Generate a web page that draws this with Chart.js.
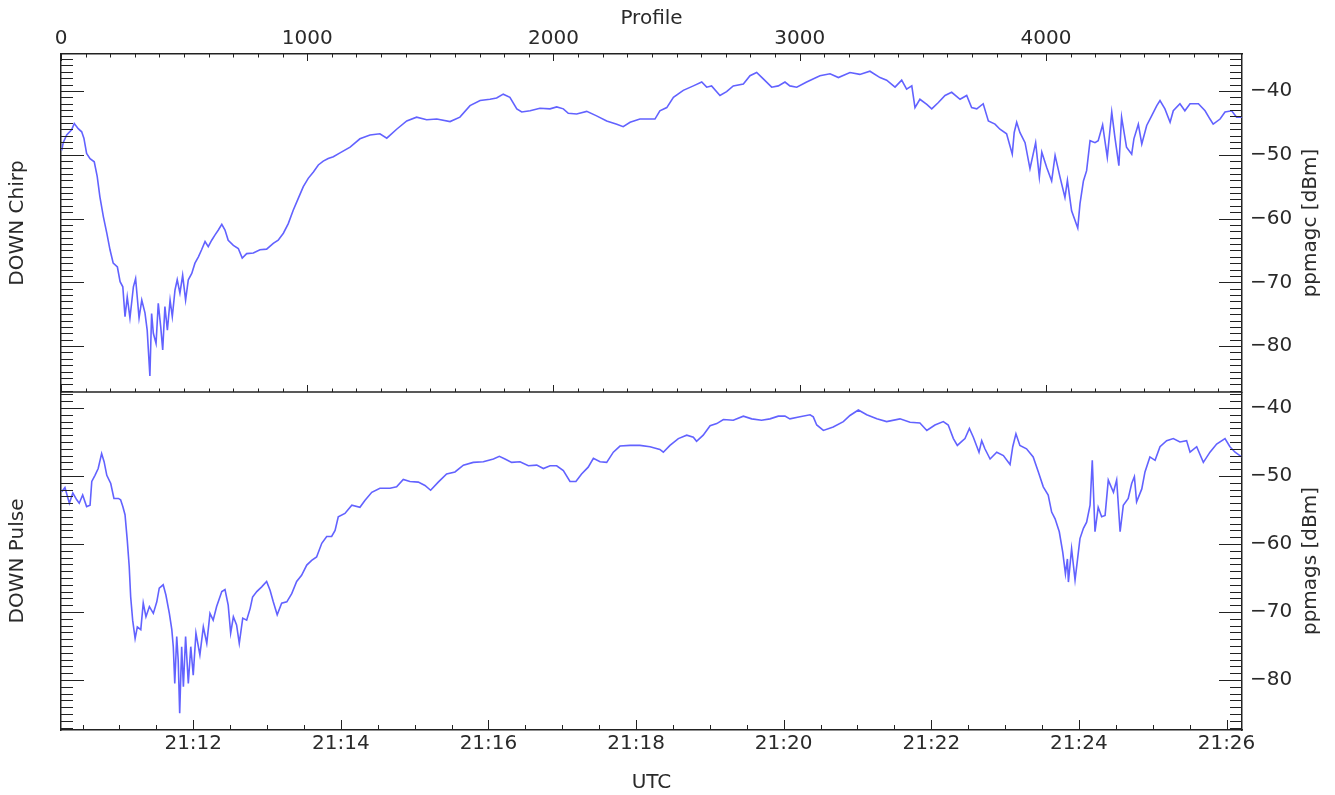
<!DOCTYPE html>
<html><head><meta charset="utf-8">
<script src="https://cdn.jsdelivr.net/npm/chart.js@4.4.1/dist/chart.umd.min.js"></script>
<style>
html,body{margin:0;padding:0;background:#fff;width:1335px;height:795px;overflow:hidden}
#c1{position:absolute;left:0;top:0}
#c2{position:absolute;left:0;top:392px}
</style></head><body>
<canvas id="c1" width="1335" height="394"></canvas>
<canvas id="c2" width="1335" height="403"></canvas>
<script>
// ---- tick labels ----
const profileTickLabels = [0, 1000, 2000, 3000, 4000];
const timeTickLabels = ['21:12','21:14','21:16','21:18','21:20','21:22','21:24','21:26'];
const dbTickLabels = [-80, -70, -60, -50, -40];

// ---- axis ranges ----
const profileRange = [0, 4796];
const timeRange = [76212.5, 77172.6];        // seconds of day (UTC)
const chirpRange = [-87.2, -34.2];
const pulseRange = [-87.35, -37.65];

// ---- DOWN Chirp (ppmagc) ----
const chirpProfile = [3,9,23,43,54,70,84,93,104,118,
135,147,158,172,186,199,212,229,240,251,
260,269,280,294,303,317,328,341,350,361,
368,375,386,395,405,413,422,432,443,452,
463,472,483,494,506,517,531,544,558,571,
585,598,612,625,639,653,666,679,700,720,
736,754,781,808,835,862,882,903,923,943,
964,984,1004,1025,1045,1065,1085,1106,1133,1174,
1214,1255,1295,1323,1363,1404,1444,1485,1526,1580,
1620,1661,1702,1742,1769,1796,1823,1851,1871,1905,
1945,1986,2013,2040,2060,2094,2135,2175,2216,2257,
2283,2311,2351,2392,2412,2432,2460,2487,2527,2568,
2602,2622,2642,2676,2703,2730,2771,2798,2825,2852,
2886,2913,2940,2960,2988,3028,3082,3123,3157,3204,
3244,3285,3326,3353,3387,3414,3434,3455,3468,3488,
3516,3536,3563,3590,3617,3651,3678,3698,3719,3745,
3766,3793,3813,3840,3863,3871,3881,3894,3915,3935,
3958,3973,3983,4003,4023,4037,4057,4077,4087,4104,
4129,4138,4152,4165,4179,4199,4212,4230,4249,4267,
4280,4296,4307,4327,4348,4357,4375,4389,4409,4429,
4450,4463,4483,4504,4517,4544,4564,4585,4619,4646,
4666,4679,4707,4727,4754,4774,4795];
const chirpDb = [-49.3,-48.1,-46.9,-46.1,-45.1,-45.9,-46.4,-47.4,-49.8,-50.6,
-51.1,-53.4,-56.6,-59.7,-62.3,-64.9,-67.0,-67.6,-69.9,-70.7,
-75.4,-72.3,-75.6,-70.7,-69.4,-75.6,-72.8,-74.8,-77.5,-84.7,
-74.9,-78.0,-79.6,-73.3,-77.0,-80.6,-73.8,-77.5,-72.8,-75.4,
-71.2,-69.6,-71.7,-68.9,-72.8,-69.6,-68.6,-67.0,-66.0,-64.9,
-63.6,-64.4,-63.4,-62.6,-61.8,-60.9,-61.8,-63.4,-64.2,-64.7,
-66.2,-65.5,-65.4,-64.9,-64.8,-63.9,-63.4,-62.3,-60.8,-58.7,
-56.8,-55.0,-53.7,-52.7,-51.6,-51.0,-50.6,-50.3,-49.7,-48.8,
-47.5,-46.9,-46.7,-47.4,-46.0,-44.7,-44.1,-44.5,-44.4,-44.8,
-44.1,-42.3,-41.5,-41.3,-41.1,-40.5,-41.0,-42.8,-43.3,-43.1,
-42.7,-42.8,-42.5,-42.8,-43.5,-43.6,-43.2,-43.9,-44.7,-45.2,
-45.6,-44.9,-44.4,-44.4,-44.4,-43.1,-42.6,-41.0,-39.9,-39.2,
-38.6,-39.4,-39.2,-40.7,-40.1,-39.2,-38.9,-37.6,-37.1,-38.1,
-39.4,-39.2,-38.6,-39.2,-39.4,-38.6,-37.6,-37.3,-37.9,-37.1,
-37.4,-36.9,-37.9,-38.3,-39.4,-38.3,-39.7,-39.2,-42.6,-41.3,
-42.1,-42.8,-41.8,-40.7,-40.2,-41.3,-40.7,-42.6,-42.8,-42.0,
-44.7,-45.2,-46.0,-46.7,-49.9,-46.5,-44.9,-46.5,-48.1,-52.2,
-48.1,-53.5,-49.6,-52.0,-54.1,-50.1,-53.5,-56.7,-54.0,-58.8,
-61.5,-57.7,-54.1,-52.5,-47.8,-48.1,-47.8,-45.3,-50.4,-43.3,
-47.3,-51.7,-44.1,-48.8,-49.9,-47.5,-45.2,-48.3,-45.4,-43.9,
-42.3,-41.5,-42.8,-44.9,-43.1,-42.0,-43.1,-42.0,-42.0,-43.1,
-44.4,-45.2,-44.4,-43.3,-43.1,-44.1,-44.1];

// ---- DOWN Pulse (ppmags) ----
const pulseProfile = [3,16,34,48,64,74,88,104,118,125,
138,151,165,175,186,202,215,233,242,251,
260,269,277,283,291,301,310,324,334,345,
359,375,389,399,415,426,440,450,456,462,
470,476,482,490,497,506,517,527,537,548,
564,578,592,605,618,632,653,666,679,689,
700,713,724,738,754,768,778,795,815,835,
849,862,878,896,917,937,957,977,998,1018,
1038,1059,1079,1099,1113,1126,1153,1181,1214,1234,
1262,1295,1336,1363,1390,1417,1451,1478,1501,1532,
1566,1600,1634,1674,1715,1756,1780,1803,1830,1864,
1898,1932,1959,1986,2013,2040,2067,2091,2114,2141,
2162,2189,2216,2243,2270,2311,2351,2392,2432,2446,
2473,2507,2541,2568,2581,2608,2636,2663,2690,2730,
2771,2805,2845,2879,2913,2940,2960,3001,3042,3055,
3069,3096,3136,3177,3204,3238,3272,3313,3353,3407,
3448,3488,3516,3549,3583,3603,3624,3640,3658,3671,
3689,3705,3728,3739,3752,3773,3800,3827,3854,3865,
3878,3894,3921,3948,3969,3989,4009,4023,4037,4054,
4068,4079,4087,4091,4104,4118,4127,4138,4152,4165,
4179,4188,4199,4212,4226,4240,4253,4274,4287,4301,
4314,4334,4348,4359,4368,4389,4402,4422,4443,4463,
4490,4517,4544,4571,4585,4612,4639,4666,4693,4727,
4747,4768,4795];
const pulseDb = [-52.3,-51.7,-54.0,-52.5,-53.5,-54.0,-52.8,-54.5,-54.3,-50.8,
-49.9,-48.9,-46.7,-47.9,-49.9,-51.1,-53.3,-53.3,-53.5,-54.5,
-55.7,-59.4,-63.3,-67.8,-71.2,-73.9,-72.2,-72.6,-68.7,-70.7,
-69.2,-70.2,-68.5,-66.5,-66.0,-67.5,-70.2,-72.6,-75.1,-80.5,
-73.6,-77.1,-84.9,-75.1,-81.0,-73.6,-80.5,-75.1,-79.3,-73.1,
-76.3,-72.2,-74.6,-70.2,-71.2,-69.2,-67.0,-66.7,-69.0,-73.1,
-70.7,-71.9,-74.6,-70.9,-71.2,-69.5,-67.8,-67.0,-66.3,-65.5,
-66.8,-68.5,-70.4,-68.7,-68.5,-67.3,-65.5,-64.6,-63.1,-62.4,
-61.9,-59.9,-58.9,-58.9,-58.0,-56.0,-55.5,-54.3,-54.6,-53.6,
-52.4,-51.8,-51.8,-51.6,-50.5,-50.8,-50.9,-51.4,-52.1,-50.9,
-49.7,-49.4,-48.4,-48.0,-47.9,-47.5,-47.1,-47.5,-48.0,-47.9,
-48.5,-48.4,-48.9,-48.5,-48.5,-49.2,-50.8,-50.8,-49.7,-48.7,
-47.4,-47.9,-48.0,-46.5,-45.6,-45.5,-45.5,-45.7,-46.1,-46.5,
-45.5,-44.5,-44.0,-44.3,-44.9,-44.0,-42.6,-42.3,-41.7,-41.8,
-41.2,-41.6,-41.8,-41.6,-41.2,-41.2,-41.6,-41.3,-41.0,-41.3,
-42.5,-43.3,-42.8,-42.0,-41.1,-40.3,-41.0,-41.6,-42.0,-41.6,
-42.1,-42.2,-43.3,-42.5,-42.0,-42.5,-44.5,-45.5,-44.9,-44.5,
-43.0,-44.3,-46.5,-44.8,-46.0,-47.5,-46.5,-47.0,-48.3,-45.7,
-43.8,-45.5,-46.0,-47.2,-49.4,-51.6,-52.8,-55.3,-56.3,-58.2,
-61.2,-64.4,-62.2,-65.6,-60.7,-65.3,-62.6,-59.2,-57.7,-56.8,
-54.3,-47.7,-58.2,-54.6,-56.0,-55.8,-50.6,-52.4,-50.6,-58.2,
-54.3,-53.3,-51.1,-50.1,-53.8,-51.9,-49.4,-47.2,-47.7,-45.7,
-44.8,-44.5,-45.0,-44.8,-46.5,-45.7,-48.0,-46.5,-45.3,-44.5,
-45.7,-46.5,-47.2];

// ---- styling ----
const FONT = '"DejaVu Sans", sans-serif';
const TXT = '#2a2a2a';
const LINE = '#6262ff';
const AXC = '#222';

function toPts(px, py){ const n=Math.min(px.length,py.length); const out=[]; for(let i=0;i<n;i++) out.push({x:px[i],y:py[i]}); return out; }
function hm2sec(s){ const [h,m]=s.split(':').map(Number); return h*3600+m*60; }
const timeTickValues = timeTickLabels.map(hm2sec);
const fmtDb = v => (v<0 ? '\u2212' + Math.abs(v) : String(v));
function noPad(sc){ sc.paddingTop=0; sc.paddingBottom=0; sc.paddingLeft=0; sc.paddingRight=0; }

function drawYTicks(ctx, a, sc){
  for(let v=Math.ceil(sc.min); v<=sc.max; v++){
    const y=Math.round(sc.getPixelForValue(v))+0.5;
    const len = (v%10===0)?23:12;
    ctx.moveTo(a.left,y); ctx.lineTo(a.left+len,y);
    ctx.moveTo(a.right,y); ctx.lineTo(a.right-len,y);
  }
}
function rightTitle(ctx, a, text){
  ctx.save();
  ctx.translate(1311,(a.top+a.bottom)/2);
  ctx.rotate(-Math.PI/2);
  ctx.font='20px '+FONT; ctx.fillStyle=TXT; ctx.textAlign='center'; ctx.textBaseline='middle';
  ctx.fillText(text,0,0);
  ctx.restore();
}

const topPlugin = { id:'topDeco', afterDraw(chart){
  const ctx=chart.ctx, a=chart.chartArea, xp=chart.scales.xp, yc=chart.scales.yc;
  ctx.save(); ctx.strokeStyle=AXC; ctx.lineWidth=1; ctx.beginPath();
  for(let p=profileRange[0]; p<=profileRange[1]; p+=100){
    const x=Math.round(xp.getPixelForValue(p))+0.5;
    const len=(p%1000===0)?7:3.5;
    ctx.moveTo(x,a.top); ctx.lineTo(x,a.top+len);
    ctx.moveTo(x,a.bottom); ctx.lineTo(x,a.bottom-len);
  }
  drawYTicks(ctx,a,yc);
  ctx.stroke();
  ctx.lineWidth=1.5; ctx.beginPath(); ctx.moveTo(a.left,a.bottom); ctx.lineTo(a.right,a.bottom); ctx.stroke();
  ctx.restore();
  rightTitle(ctx,a,'ppmagc [dBm]');
}};
const botPlugin = { id:'botDeco', afterDraw(chart){
  const ctx=chart.ctx, a=chart.chartArea, xt=chart.scales.xt, ys=chart.scales.ys;
  ctx.save(); ctx.strokeStyle=AXC; ctx.lineWidth=1; ctx.beginPath();
  for(let t=Math.ceil(timeRange[0]/30)*30; t<=timeRange[1]; t+=30){
    const x=Math.round(xt.getPixelForValue(t))+0.5;
    const len=(t%120===0)?10:5;
    ctx.moveTo(x,a.bottom); ctx.lineTo(x,a.bottom-len);
  }
  drawYTicks(ctx,a,ys);
  ctx.stroke();
  ctx.restore();
  rightTitle(ctx,a,'ppmags [dBm]');
}};

const noGrid = {display:false, drawTicks:false};
const border = {display:true, color:AXC, width:1.5};

function yScales(idRight, range, leftTitle){
  const s = {};
  s[idRight] = {type:'linear', position:'right', min:range[0], max:range[1],
    grid:noGrid, border:border,
    afterBuildTicks: sc => { sc.ticks = dbTickLabels.map(v=>({value:v})); },
    ticks:{autoSkip:false, color:TXT, font:{family:FONT,size:20}, padding:8, callback:v=>fmtDb(v)},
    afterFit: sc => { sc.width = 93; noPad(sc); }};
  s.yl = {type:'linear', position:'left', min:range[0], max:range[1],
    grid:noGrid, border:border, ticks:{display:false},
    title:{display:true, text:leftTitle, color:TXT, font:{family:FONT,size:20}, padding:{top:6,bottom:0}},
    afterFit: sc => { sc.width = 61; noPad(sc); }};
  return s;
}

const dsStyle = {borderColor:LINE, borderWidth:1.6, pointRadius:0, tension:0, fill:false};

new Chart(document.getElementById('c1'), {
  type:'line',
  data:{datasets:[Object.assign({label:'ppmagc', data:toPts(chirpProfile,chirpDb), xAxisID:'xp', yAxisID:'yc'}, dsStyle)]},
  options:{responsive:false, animation:false, devicePixelRatio:1,
    layout:{padding:{top:0,left:0,right:0,bottom:2}},
    plugins:{legend:{display:false}, tooltip:{enabled:false}},
    scales:Object.assign({
      xp:{type:'linear', position:'top', min:profileRange[0], max:profileRange[1],
        grid:noGrid, border:border,
        afterBuildTicks: sc => { sc.ticks = profileTickLabels.map(v=>({value:v})); },
        ticks:{autoSkip:false, maxRotation:0, color:TXT, font:{family:FONT,size:20}, padding:3, callback:v=>String(v)},
        title:{display:true, text:'Profile', color:TXT, font:{family:FONT,size:20}, padding:{top:7,bottom:0}},
        afterFit: sc => { sc.height = 54; noPad(sc); }}
    }, yScales('yc', chirpRange, 'DOWN Chirp'))
  },
  plugins:[topPlugin]
});

new Chart(document.getElementById('c2'), {
  type:'line',
  data:{datasets:[Object.assign({label:'ppmags', data:toPts(pulseProfile,pulseDb), xAxisID:'xp', yAxisID:'ys'}, dsStyle)]},
  options:{responsive:false, animation:false, devicePixelRatio:1,
    layout:{padding:0},
    plugins:{legend:{display:false}, tooltip:{enabled:false}},
    scales:Object.assign({
      xp:{type:'linear', display:false, min:profileRange[0], max:profileRange[1]},
      xt:{type:'linear', position:'bottom', min:timeRange[0], max:timeRange[1],
        grid:noGrid, border:border,
        afterBuildTicks: sc => { sc.ticks = timeTickValues.map(v=>({value:v})); },
        ticks:{autoSkip:false, maxRotation:0, color:TXT, font:{family:FONT,size:20}, padding:2,
          callback:v=>{ const i=timeTickValues.indexOf(v); return i>=0?timeTickLabels[i]:''; }},
        title:{display:true, text:'UTC', color:TXT, font:{family:FONT,size:20}, padding:{top:0,bottom:0}},
        afterFit: sc => { sc.height = 65; noPad(sc); }}
    }, yScales('ys', pulseRange, 'DOWN Pulse'))
  },
  plugins:[botPlugin]
});
</script>
</body></html>
